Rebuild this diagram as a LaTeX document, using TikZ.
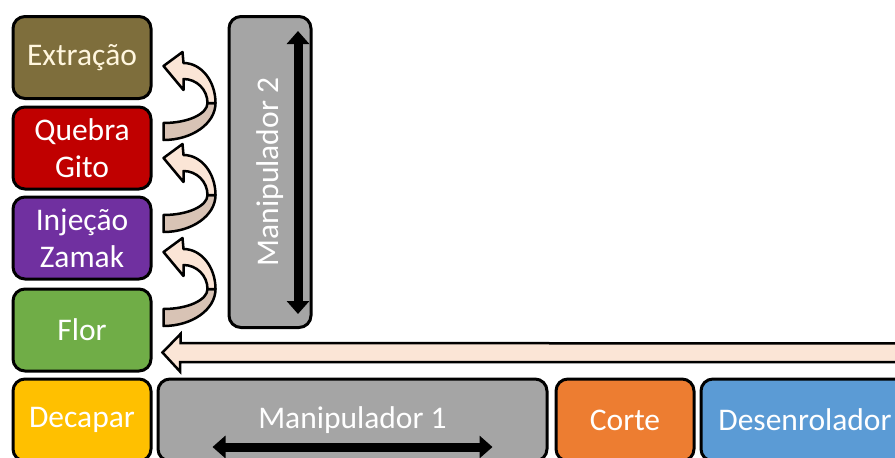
\documentclass[tikz,border=0pt]{standalone}
\usepackage{fontspec}
\setmainfont{Carlito}
\usetikzlibrary{arrows.meta}

\definecolor{extrcol}{HTML}{7E6E3C}
\definecolor{quebcol}{HTML}{C00000}
\definecolor{injcol}{HTML}{7030A0}
\definecolor{florcol}{HTML}{70AD47}
\definecolor{decapcol}{HTML}{FFC000}
\definecolor{manipcol}{HTML}{A5A5A5}
\definecolor{cortecol}{HTML}{ED7D31}
\definecolor{desencol}{HTML}{5B9BD5}
\definecolor{peach}{HTML}{FBE5D6}
\definecolor{peachdark}{HTML}{D8C3B5}
\definecolor{cream}{HTML}{FFF6DE}

\tikzset{
  station/.style={draw=black, line width=3pt, rounded corners=12pt,
    minimum width=138pt, minimum height=82pt, text=white, align=center,
    font=\fontsize{31.5}{37}\selectfont},
  travel/.style={line width=9pt,
    {Triangle[width=22pt,length=13pt]}-{Triangle[width=22pt,length=13pt]}},
  feedarrow/.style={draw=black, line width=2.5pt, fill=peach},
  % curved block arrow, origin at the middle of its tail
  pics/bentarrow/.style={code={
    \filldraw[fill=peachdark, draw=black, line width=2.5pt, line join=round]
      (0,9) arc[start angle=90, end angle=0, x radius=52, y radius=37]
      -- (44,-28) arc[start angle=0, end angle=90, x radius=44, y radius=20]
      -- cycle;
    \filldraw[fill=peach, draw=black, line width=2.5pt, line join=round]
      (52,-28) arc[start angle=0, end angle=-90, x radius=32, y radius=40]
      -- (19,-79) -- (0,-65) -- (20,-41) -- (20,-52)
      arc[start angle=-90, end angle=0, x radius=24, y radius=24]
      -- cycle;
  }}
}

\begin{document}
\begin{tikzpicture}[x=1pt, y=-1pt]
    \useasboundingbox (0,0) rectangle (895,458);
    \clip (0,0) rectangle (895,458);

    % left column of stations
    \node[station, fill=extrcol, text=cream] (extracao) at (82,57.5) {Extração};
    \node[station, fill=quebcol] (quebra) at (82,148) {Quebra\\Gito};
    \node[station, fill=injcol] (injecao) at (82,238) {Injeção\\Zamak};
    \node[station, fill=florcol] (flor) at (82,330) {Flor};

    % bottom row
    \node[station, fill=decapcol] (decapar) at (82,420) {Decapar};
    \node[station, fill=manipcol, minimum width=389pt] (manip1) at (352.5,420) {Manipulador 1};
    \node[station, fill=cortecol] (corte) at (625,420) {Corte};
    \node[station, fill=desencol, minimum width=208pt] (desenrolador) at (805,420) {Desenrolador};

    % vertical handler
    \node[station, fill=manipcol, minimum width=311pt, minimum height=82pt, rotate=90]
      (manip2) at (270,172) {Manipulador 2};

    \draw[travel] ([xshift=28pt,yshift=-16pt]manip2.east) -- ([xshift=28pt,yshift=15pt]manip2.west);
    \draw[travel] ([xshift=-140pt,yshift=-27pt]manip1.center) -- ([xshift=140pt,yshift=-27pt]manip1.center);

    % transfers between the stations
    \pic at ([xshift=11pt,yshift=17pt]quebra.east) {bentarrow};
    \pic at ([xshift=11pt,yshift=15pt]injecao.east) {bentarrow};
    \pic at ([xshift=11pt,yshift=13pt]flor.east) {bentarrow};

    % strip feed
    \coordinate (feed) at ([xshift=10pt,yshift=-22.5pt]flor.east);
    \draw[feedarrow] (feed) -- ++(18,-18.5) -- ++(0,9) -- (930,343.5)
      -- (930,362) -- ++(-750,0) -- ++(0,9.5) -- cycle;
\end{tikzpicture}
\end{document}
